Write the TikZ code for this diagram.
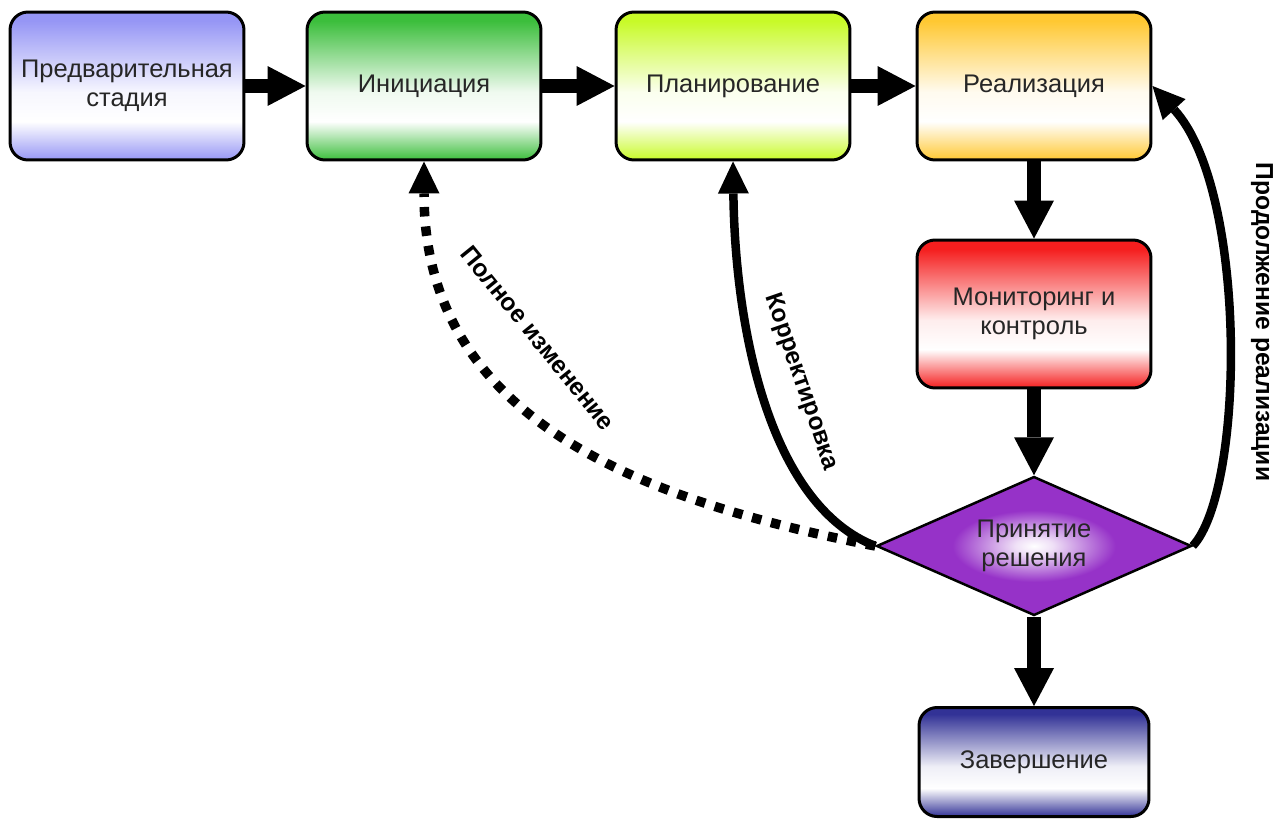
\documentclass[tikz,border=0pt]{standalone}
\usepackage{fontspec}
\setmainfont{Liberation Sans}
\usetikzlibrary{arrows.meta,shapes.geometric}

% stage colours
\definecolor{cPre}{RGB}{150,150,245}
\definecolor{cIni}{RGB}{60,190,60}
\definecolor{cPlan}{RGB}{200,250,40}
\definecolor{cReal}{RGB}{255,200,50}
\definecolor{cMon}{RGB}{245,30,30}
\definecolor{cEnd}{RGB}{50,50,150}
\definecolor{cDec}{RGB}{150,50,200}
\colorlet{cA}{white}

% box fill: coloured top, white band low in the box, coloured bottom
\pgfdeclareverticalshading[cA]{boxshade}{100bp}{%
  color(0bp)=(cA); color(25bp)=(cA); color(38bp)=(white);
  color(48bp)=(white!92!cA); color(72bp)=(cA); color(100bp)=(cA)}
% decision fill: white centre fading to purple
\pgfdeclareradialshading{decshade}{\pgfpointorigin}{%
  color(0bp)=(white); color(3bp)=(white!85!cDec);
  color(13bp)=(cDec); color(50bp)=(cDec)}

\newcommand\bxfont{\fontsize{14.5}{16.5}\selectfont}
\newcommand\lbfont{\fontsize{14}{17}\selectfont\bfseries}

\begin{document}
\begin{tikzpicture}[x=0.02cm, y=-0.02cm,
  stagebox/.style={draw=black, line width=0.06cm, rounded corners=0.36cm,
    minimum width=4.68cm, minimum height=2.96cm, inner sep=0pt,
    align=center, font=\bxfont, text=black!85},
  boxfill/.style={/utils/exec={\colorlet{cA}{#1}}, shading=boxshade},
  decision/.style={diamond, aspect=2.27, draw=black, line width=0.05cm,
    shading=decshade, minimum width=6.3cm, minimum height=2.78cm,
    inner sep=0pt, align=center, font=\bxfont, text=black!85},
  bigarrow/.style={line width=0.28cm,
    -{Triangle[width=0.8cm,length=0.76cm,line width=0pt]}},
  curvearrow/.style={line width=0.17cm,
    -{Triangle[width=0.62cm,length=0.64cm,line width=0pt]}},
  dotarrow/.style={curvearrow, line width=0.19cm, dash pattern=on 0.19cm off 0.2cm},
  lbl/.style={font=\lbfont, inner sep=0pt}]

\useasboundingbox (0,0) rectangle (1284,818);

% stages
\node[stagebox, boxfill=cPre]  (pre)  at (127,86)  {Предварительная\\стадия};
\node[stagebox, boxfill=cIni]  (ini)  at (424,86)  {Инициация};
\node[stagebox, boxfill=cPlan] (plan) at (733,86)  {Планирование};
\node[stagebox, boxfill=cReal] (real) at (1034,86) {Реализация};
\node[stagebox, boxfill=cMon]  (mon)  at (1034,314) {Мониторинг и\\контроль};
\node[decision] (dec) at (1034,546) {Принятие\\решения};
\node[stagebox, boxfill=cEnd, minimum width=4.6cm, minimum height=2.18cm]
  (fin) at (1034,762) {Завершение};

% main flow
\draw[bigarrow] (pre) -- (ini);
\draw[bigarrow] (ini) -- (plan);
\draw[bigarrow] (plan) -- (real);
\draw[bigarrow] (real) -- (mon);
\draw[bigarrow] (mon) -- (dec);
\draw[bigarrow] (dec) -- (fin);

% feedback loops from the decision
\draw[dotarrow] (dec.west) .. controls (640,500) and (424,420) .. (ini.south);
\draw[curvearrow] (dec.west) .. controls (770,505) and (735,330) .. (plan.south);
\draw[curvearrow] (dec.east) .. controls (1245,490) and (1248,190) .. (real.east);

% loop labels
\node[lbl, rotate=-51] (l1) at (538,338) {Полное изменение};
\node[lbl, rotate=-71] (l2) at (801,382) {Корректировка};
\node[lbl, rotate=-90] (l3) at (1262,322) {Продолжение реализации};
\end{tikzpicture}
\end{document}
